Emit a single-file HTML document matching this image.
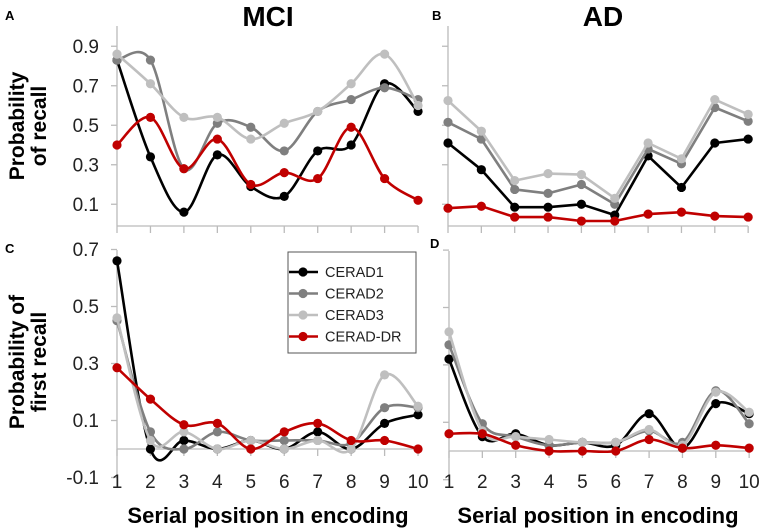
<!DOCTYPE html>
<html><head><meta charset="utf-8">
<style>
html,body{margin:0;padding:0;background:#fff;}
svg{display:block;font-family:"Liberation Sans",Arial,sans-serif;}
</style></head>
<body>
<svg id="chart" width="767" height="532" viewBox="0 0 767 532" xmlns="http://www.w3.org/2000/svg">
<g id="static">
<text x="5" y="20" font-size="13" font-weight="bold">A</text>
<text x="432" y="20" font-size="13" font-weight="bold">B</text>
<text x="5" y="253" font-size="13" font-weight="bold">C</text>
<text x="430" y="248" font-size="13" font-weight="bold">D</text>
<text x="268" y="26" font-size="28" font-weight="bold" text-anchor="middle">MCI</text>
<text x="603" y="26" font-size="28" font-weight="bold" text-anchor="middle">AD</text>
<text transform="translate(0,126) rotate(-90)" font-size="21" font-weight="bold" text-anchor="middle"><tspan x="0" y="24">Probability</tspan><tspan x="0" y="46">of  recall</tspan></text>
<text transform="translate(0,362) rotate(-90)" font-size="21" font-weight="bold" text-anchor="middle"><tspan x="0" y="24">Probability of</tspan><tspan x="0" y="46">first recall</tspan></text>
<text x="268" y="523" font-size="22" font-weight="bold" text-anchor="middle">Serial position in encoding</text>
<text x="598" y="523" font-size="22" font-weight="bold" text-anchor="middle">Serial position in encoding</text>
</g>
<g id="plots"></g>
<g id="legend">
<rect x="288" y="252" width="128" height="101" fill="#fff" stroke="#555" stroke-width="1"/>
</g>
</svg>
<script>
const positions = [1,2,3,4,5,6,7,8,9,10];
const seriesNames = ["CERAD1","CERAD2","CERAD3","CERAD-DR"];
const seriesColors = ["#000000","#7f7f7f","#bfbfbf","#c00000"];
const recallTicks = [0.1,0.3,0.5,0.7,0.9];
const recallTickLabels = ["0.1","0.3","0.5","0.7","0.9"];
const firstTicks = [-0.1,0.1,0.3,0.5,0.7];
const firstTickLabels = ["-0.1","0.1","0.3","0.5","0.7"];
const xTickLabels = ["1","2","3","4","5","6","7","8","9","10"];

const mciRecall1 = [0.83,0.34,0.06,0.35,0.19,0.14,0.37,0.40,0.71,0.57];
const mciRecall2 = [0.83,0.83,0.28,0.51,0.49,0.37,0.57,0.63,0.69,0.63];
const mciRecall3 = [0.86,0.71,0.54,0.54,0.43,0.51,0.57,0.71,0.86,0.60];
const mciRecallDR = [0.40,0.54,0.28,0.43,0.20,0.26,0.23,0.49,0.23,0.12];

const adRecall1 = [0.41,0.275,0.085,0.085,0.10,0.045,0.345,0.185,0.41,0.43];
const adRecall2 = [0.515,0.43,0.175,0.155,0.20,0.10,0.38,0.305,0.59,0.52];
const adRecall3 = [0.625,0.47,0.22,0.255,0.25,0.13,0.41,0.33,0.63,0.555];
const adRecallDR = [0.08,0.09,0.035,0.035,0.015,0.015,0.05,0.06,0.04,0.035];

const mciFirst1 = [0.66,0.0,0.03,0.0,0.03,0.0,0.06,0.0,0.09,0.12];
const mciFirst2 = [0.45,0.06,0.0,0.06,0.03,0.03,0.03,0.02,0.145,0.145];
const mciFirst3 = [0.46,0.03,0.06,0.0,0.03,0.0,0.03,0.0,0.26,0.15];
const mciFirstDR = [0.285,0.175,0.085,0.09,0.0,0.06,0.09,0.03,0.03,0.0];

const adFirst1 = [0.32,0.05,0.06,0.02,0.03,0.02,0.13,0.01,0.165,0.13];
const adFirst2 = [0.37,0.095,0.05,0.02,0.03,0.03,0.07,0.03,0.21,0.095];
const adFirst3 = [0.415,0.07,0.05,0.04,0.03,0.03,0.075,0.02,0.205,0.135];
const adFirstDR = [0.06,0.06,0.02,0.0,0.0,0.0,0.04,0.01,0.02,0.01];

const NS="http://www.w3.org/2000/svg";
const plots=document.getElementById('plots');
function mk(tag,attrs,parent){const e=document.createElementNS(NS,tag);for(const k in attrs)e.setAttribute(k,attrs[k]);(parent||plots).appendChild(e);return e;}

function smoothPath(pts){
  let d="M"+pts[0][0].toFixed(1)+","+pts[0][1].toFixed(1);
  for(let i=0;i<pts.length-1;i++){
    const p0=pts[i-1]||pts[i],p1=pts[i],p2=pts[i+1],p3=pts[i+2]||p2;
    const t=1/6;
    const c1=[p1[0]+(p2[0]-p0[0])*t,p1[1]+(p2[1]-p0[1])*t];
    const c2=[p2[0]-(p3[0]-p1[0])*t,p2[1]-(p3[1]-p1[1])*t];
    d+=" C"+c1[0].toFixed(1)+","+c1[1].toFixed(1)+" "+c2[0].toFixed(1)+","+c2[1].toFixed(1)+" "+p2[0].toFixed(1)+","+p2[1].toFixed(1);
  }
  return d;
}

function panel(cfg){
  const g=mk('g',{});
  
  
  const xs=v=>cfg.x1+(v-1)*cfg.step;
  const ys=v=>cfg.y0-(v-cfg.v0)*cfg.scale;
  const x10=xs(10);
  const ya=mk('line',{x1:cfg.x1,x2:cfg.x1,y1:cfg.axisTop,y2:cfg.axisBot,stroke:'#bbb','stroke-width':1.3},g);
  
  
  cfg.ticks.forEach((t,i)=>{
    const tk=mk('line',{x1:cfg.x1-6,x2:cfg.x1,y1:ys(t),y2:ys(t),stroke:'#bbb','stroke-width':1.3},g);
    
    
    if(cfg.showY){
      const tl=mk('text',{x:cfg.x1-18,y:ys(t)+6.5,'font-size':19,'text-anchor':'end',fill:'#222'},g);
      
      
      tl.textContent=cfg.tickLabels[i];
    }
  });
  const xa=mk('line',{x1:cfg.x1,x2:x10,y1:cfg.xAxisY,y2:cfg.xAxisY,stroke:'#bbb','stroke-width':1.3},g);
  
  
  positions.forEach((p,i)=>{
    const tk=mk('line',{x1:xs(p),x2:xs(p),y1:cfg.xAxisY,y2:cfg.xAxisY+7,stroke:'#bbb','stroke-width':1.3},g);
    
    
    if(cfg.showX){
      const tl=mk('text',{x:xs(p),y:488,'font-size':19,'text-anchor':'middle',fill:'#222'},g);
      
      
      tl.textContent=xTickLabels[i];
    }
  });
  cfg.series.forEach((vals,si)=>{
    const pts=positions.map((p,i)=>[xs(p),ys(vals[i])]);
    const ln=mk('path',{d:cfg.smooth?smoothPath(pts):("M"+pts.map(q=>q[0].toFixed(1)+","+q[1].toFixed(1)).join(" L")),fill:'none',stroke:seriesColors[si],'stroke-width':2.6,'stroke-linejoin':'round'},g);
    
    
    pts.forEach(q=>{
      const c=mk('circle',{cx:q[0],cy:q[1],r:4.6,fill:seriesColors[si]},g);
      
      
    });
  });
}

panel({name:'panel-a-mci-recall',x1:117,step:33.45,y0:224,v0:0,scale:197.5,axisTop:26,axisBot:226,xAxisY:226,ticks:recallTicks,tickLabels:recallTickLabels,showY:true,showX:false,smooth:true,series:[mciRecall1,mciRecall2,mciRecall3,mciRecallDR]});
panel({name:'panel-b-ad-recall',x1:448,step:33.35,y0:224,v0:0,scale:197.5,axisTop:26,axisBot:226,xAxisY:226,ticks:recallTicks,tickLabels:recallTickLabels,showY:false,showX:false,smooth:false,series:[adRecall1,adRecall2,adRecall3,adRecallDR]});
panel({name:'panel-c-mci-first-recall',x1:117,step:33.45,y0:449,v0:0,scale:285,axisTop:250,axisBot:478,xAxisY:449,ticks:firstTicks,tickLabels:firstTickLabels,showY:true,showX:true,smooth:true,series:[mciFirst1,mciFirst2,mciFirst3,mciFirstDR]});
panel({name:'panel-d-ad-first-recall',x1:449,step:33.35,y0:451,v0:0,scale:287,axisTop:251,axisBot:478,xAxisY:451,ticks:firstTicks,tickLabels:firstTickLabels,showY:false,showX:true,smooth:true,series:[adFirst1,adFirst2,adFirst3,adFirstDR]});

const leg=document.getElementById('legend');
seriesNames.forEach((n,i)=>{
  const y=272+i*21.5;
  const e=mk('g',{},leg);
  
  
  mk('line',{x1:289,x2:318,y1:y,y2:y,stroke:seriesColors[i],'stroke-width':2.6},e);
  mk('circle',{cx:303,cy:y,r:4.6,fill:seriesColors[i]},e);
  const t=mk('text',{x:325,y:y+5,'font-size':14.5,fill:'#222'},e);
  t.textContent=n;
});
</script>
</body></html>
